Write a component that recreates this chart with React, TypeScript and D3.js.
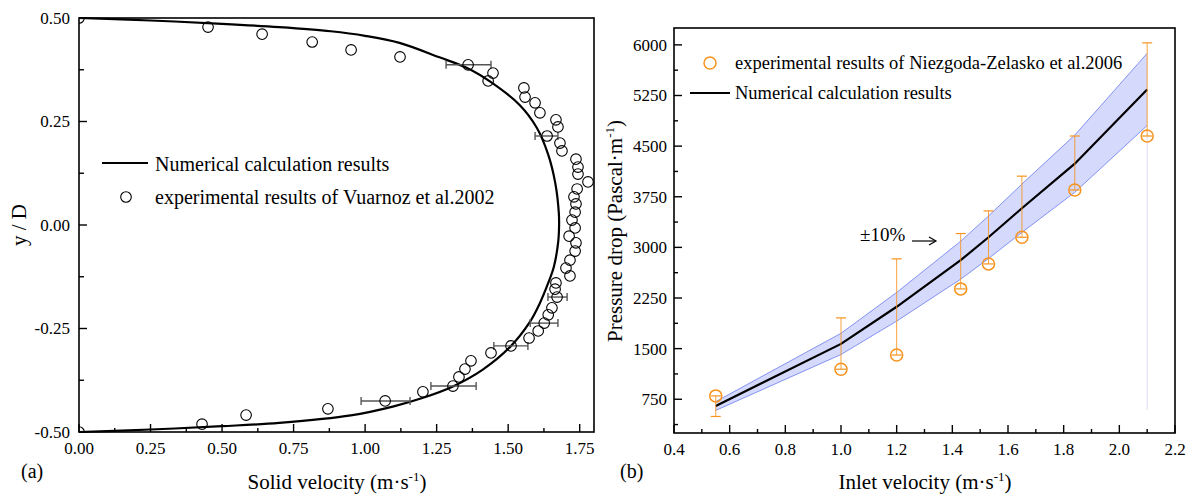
import React from 'react';
import * as d3 from 'd3';

// ---------- Panel (a) data ----------
const numY = [0.5, 0.494, 0.486, 0.478, 0.468, 0.457, 0.44, 0.405, 0.378, 0.345, 0.29, 0.235, 0.17, 0.1, 0.03, 0, -0.04, -0.1, -0.14, -0.19, -0.234, -0.295, -0.35, -0.39, -0.418, -0.438, -0.46, -0.478, -0.486, -0.494, -0.5];
const numV = [0, 0.25, 0.5, 0.7, 0.88, 1.0, 1.12, 1.26, 1.36, 1.44, 1.54, 1.6, 1.64, 1.665, 1.677, 1.678, 1.675, 1.66, 1.64, 1.61, 1.576, 1.506, 1.41, 1.307, 1.2, 1.1, 0.95, 0.7, 0.5, 0.25, 0];

const expV = [0, 0.451, 0.64, 0.815, 0.951, 1.122, 1.36, 1.447, 1.43, 1.555, 1.559, 1.594, 1.611, 1.667, 1.674, 1.636, 1.681, 1.688, 1.737, 1.744, 1.744, 1.779, 1.741, 1.73, 1.737, 1.734, 1.723, 1.734, 1.713, 1.737, 1.734, 1.716, 1.702, 1.716, 1.667, 1.664, 1.671, 1.653, 1.64, 1.626, 1.605, 1.573, 1.51, 1.44, 1.37, 1.349, 1.328, 1.307, 1.202, 1.07, 0.87, 0.584, 0.43, 0];
const expY = [0.5, 0.478, 0.461, 0.442, 0.423, 0.406, 0.387, 0.367, 0.348, 0.331, 0.309, 0.295, 0.271, 0.254, 0.237, 0.215, 0.198, 0.179, 0.159, 0.14, 0.123, 0.104, 0.087, 0.068, 0.051, 0.031, 0.012, -0.007, -0.027, -0.043, -0.063, -0.085, -0.104, -0.123, -0.14, -0.155, -0.174, -0.2, -0.217, -0.237, -0.256, -0.273, -0.292, -0.309, -0.328, -0.348, -0.367, -0.389, -0.403, -0.425, -0.444, -0.459, -0.481, -0.5];

const errY = [0.387, 0.215, -0.174, -0.237, -0.292, -0.389, -0.425];
const errLo = [1.283, 1.594, 1.639, 1.577, 1.45, 1.23, 0.986];
const errHi = [1.44, 1.674, 1.706, 1.674, 1.569, 1.388, 1.157];

const aXTicks = [0, 0.25, 0.5, 0.75, 1.0, 1.25, 1.5, 1.75];
const aYTicks = [-0.5, -0.25, 0, 0.25, 0.5];

// ---------- Panel (b) data ----------
const inletV = [0.55, 1.0, 1.2, 1.43, 1.53, 1.65, 1.84, 2.1];
const numDrop = [650, 1570, 2120, 2810, 3150, 3580, 4240, 5340];
const expDrop = [800, 1195, 1405, 2385, 2755, 3150, 3850, 4650];
const expHigh = [800, 1955, 2830, 3205, 3540, 4055, 4650, 6030];
const expLow = [495, 1195, 1405, 2385, 2755, 3150, 3850, 4650];
const faintLowX = 2.1;
const faintLowFrom = 4650;
const faintLowTo = 590;
const bandPct = 0.1;

const bXTicks = [0.4, 0.6, 0.8, 1.0, 1.2, 1.4, 1.6, 1.8, 2.0, 2.2];
const bYTicks = [750, 1500, 2250, 3000, 3750, 4500, 5250, 6000];

const FONT = '"Liberation Serif", "Times New Roman", serif';
const ORANGE = '#f7931e';

function PanelA() {
  const L = 79, R = 594, T = 18, B = 432;
  const x = d3.scaleLinear().domain([0, 1.8]).range([L, R]);
  const y = d3.scaleLinear().domain([-0.5, 0.5]).range([B, T]);
  const pts = numY.map((yy, i) => [numV[i], yy] as [number, number]);
  const line = d3.line<[number, number]>().x(d => x(d[0])).y(d => y(d[1])).curve(d3.curveCatmullRom.alpha(0.5));
  const xMinor = d3.range(0.125, 1.8, 0.25);
  const yMinor = [-0.375, -0.125, 0.125, 0.375];
  return (
    <g>
      <defs>
        <clipPath id="clipA"><rect x={L} y={T} width={R - L} height={B - T} /></clipPath>
      </defs>
      <rect x={L} y={T} width={R - L} height={B - T} fill="none" stroke="#000" strokeWidth={1.6} />
      {aXTicks.map(t => (
        <g key={'ax' + t}>
          <line x1={x(t)} x2={x(t)} y1={B} y2={B - 8} stroke="#000" strokeWidth={1.4} />
          <text x={x(t)} y={B + 22} textAnchor="middle" fontSize={17} fontFamily={FONT}>{t.toFixed(2)}</text>
        </g>
      ))}
      {xMinor.map(t => <line key={'axm' + t} x1={x(t)} x2={x(t)} y1={B} y2={B - 4} stroke="#000" strokeWidth={1.4} />)}
      {aYTicks.map(t => (
        <g key={'ay' + t}>
          <line x1={L} x2={L + 8} y1={y(t)} y2={y(t)} stroke="#000" strokeWidth={1.4} />
          <text x={L - 9} y={y(t)} dy="0.35em" textAnchor="end" fontSize={17} fontFamily={FONT}>{t.toFixed(2)}</text>
        </g>
      ))}
      {yMinor.map(t => <line key={'aym' + t} x1={L} x2={L + 5} y1={y(t)} y2={y(t)} stroke="#000" strokeWidth={1.4} />)}
      <path d={line(pts) || ''} fill="none" stroke="#000" strokeWidth={2.2} />
      {errY.map((yy, i) => (
        <g key={'e' + i} stroke="#555" strokeWidth={1.4}>
          <line x1={x(errLo[i])} x2={x(errHi[i])} y1={y(yy)} y2={y(yy)} />
          <line x1={x(errLo[i])} x2={x(errLo[i])} y1={y(yy) - 4} y2={y(yy) + 4} />
          <line x1={x(errHi[i])} x2={x(errHi[i])} y1={y(yy) - 4} y2={y(yy) + 4} />
        </g>
      ))}
      <g clipPath="url(#clipA)">
        {expV.map((v, i) => (
          <circle key={'c' + i} cx={x(v)} cy={y(expY[i])} r={5.3} fill="none" stroke="#000" strokeWidth={1.1} />
        ))}
      </g>
      {/* legend */}
      <line x1={102} x2={148} y1={163} y2={163} stroke="#000" strokeWidth={2} />
      <text x={155} y={171} fontSize={20} fontFamily={FONT}>Numerical calculation results</text>
      <circle cx={126} cy={197} r={5.3} fill="none" stroke="#000" strokeWidth={1.1} />
      <text x={155} y={204} fontSize={20} fontFamily={FONT}>experimental results of Vuarnoz et al.2002</text>
      {/* titles */}
      <text x={337} y={489} textAnchor="middle" fontSize={21} fontFamily={FONT}>
        Solid velocity (m·s<tspan fontSize={13} dy={-8}>-1</tspan><tspan dy={8}>)</tspan>
      </text>
      <text transform="translate(26,225) rotate(-90)" textAnchor="middle" fontSize={21} fontFamily={FONT}>y / D</text>
      <text x={21} y={478} fontSize={20} fontFamily={FONT}>(a)</text>
    </g>
  );
}

function PanelB() {
  const L = 674, R = 1175, T = 28, B = 433;
  const x = d3.scaleLinear().domain([0.4, 2.2]).range([L, R]);
  const y = d3.scaleLinear().domain([250, 6250]).range([B, T]);
  const xMinor = d3.range(0.5, 2.2, 0.2);
  const yMinor = d3.range(375, 6250, 750);
  const line = d3.line<number>().x((_, i) => x(inletV[i])).y(d => y(d));
  const area = d3.area<number>().x((_, i) => x(inletV[i])).y0(d => y(d * (1 - bandPct))).y1(d => y(d * (1 + bandPct)));
  const upper = d3.line<number>().x((_, i) => x(inletV[i])).y(d => y(d * (1 + bandPct)));
  const lower = d3.line<number>().x((_, i) => x(inletV[i])).y(d => y(d * (1 - bandPct)));
  return (
    <g>
      <rect x={L} y={T} width={R - L} height={B - T} fill="none" stroke="#000" strokeWidth={1.6} />
      {bXTicks.map(t => (
        <g key={'bx' + t}>
          <line x1={x(t)} x2={x(t)} y1={B} y2={B - 8} stroke="#000" strokeWidth={1.4} />
          <text x={x(t)} y={B + 22} textAnchor="middle" fontSize={17} fontFamily={FONT}>{t.toFixed(1)}</text>
        </g>
      ))}
      {xMinor.map(t => <line key={'bxm' + t} x1={x(t)} x2={x(t)} y1={B} y2={B - 4} stroke="#000" strokeWidth={1.4} />)}
      {bYTicks.map(t => (
        <g key={'by' + t}>
          <line x1={L} x2={L + 8} y1={y(t)} y2={y(t)} stroke="#000" strokeWidth={1.4} />
          <text x={L - 7} y={y(t)} dy="0.35em" textAnchor="end" fontSize={17} fontFamily={FONT}>{t}</text>
        </g>
      ))}
      {yMinor.map(t => <line key={'bym' + t} x1={L} x2={L + 4} y1={y(t)} y2={y(t)} stroke="#000" strokeWidth={1.4} />)}
      <path d={area(numDrop) || ''} fill="#d5d9fb" stroke="none" />
      <path d={upper(numDrop) || ''} fill="none" stroke="#8393f2" strokeWidth={1} />
      <path d={lower(numDrop) || ''} fill="none" stroke="#8393f2" strokeWidth={1} />
      <line x1={x(faintLowX)} x2={x(faintLowX)} y1={y(faintLowFrom)} y2={y(faintLowTo)} stroke="#dcdcf2" strokeWidth={1} />
      <path d={line(numDrop) || ''} fill="none" stroke="#000" strokeWidth={2.2} />
      {inletV.map((v, i) => (
        <g key={'p' + i} stroke={ORANGE} fill="none">
          <line x1={x(v)} x2={x(v)} y1={y(expHigh[i])} y2={y(expLow[i])} strokeWidth={1} strokeOpacity={0.85} />
          <line x1={x(v) - 5} x2={x(v) + 5} y1={y(expHigh[i])} y2={y(expHigh[i])} strokeWidth={1.2} />
          <line x1={x(v) - 5} x2={x(v) + 5} y1={y(expLow[i])} y2={y(expLow[i])} strokeWidth={1.2} />
          <circle cx={x(v)} cy={y(expDrop[i])} r={6} strokeWidth={1.5} />
        </g>
      ))}
      {/* annotation */}
      <text x={860} y={241} fontSize={19} fontFamily={FONT}>±10%</text>
      <line x1={912} x2={935} y1={241} y2={241} stroke="#000" strokeWidth={1.2} />
      <path d="M929,237 L936,241 L929,245" fill="none" stroke="#000" strokeWidth={1.2} />
      {/* legend */}
      <circle cx={710} cy={63} r={6} fill="none" stroke={ORANGE} strokeWidth={1.5} />
      <text x={735} y={69} fontSize={18.5} fontFamily={FONT}>experimental results of Niezgoda-Zelasko et al.2006</text>
      <line x1={690} x2={730} y1={93} y2={93} stroke="#000" strokeWidth={2} />
      <text x={735} y={99} fontSize={18.5} fontFamily={FONT}>Numerical calculation results</text>
      {/* titles */}
      <text x={925} y={489} textAnchor="middle" fontSize={21} fontFamily={FONT}>
        Inlet velocity (m·s<tspan fontSize={13} dy={-8}>-1</tspan><tspan dy={8}>)</tspan>
      </text>
      <text transform="translate(622,231) rotate(-90)" textAnchor="middle" fontSize={21} fontFamily={FONT}>
        Pressure drop (Pascal·m<tspan fontSize={13} dy={-8}>-1</tspan><tspan dy={8}>)</tspan>
      </text>
      <text x={620} y={478} fontSize={20} fontFamily={FONT}>(b)</text>
    </g>
  );
}

export default function App() {
  return (
    <svg width={1193} height={497} style={{ position: 'absolute', left: 0, top: 0, background: '#fff' }}>
      <rect width={1193} height={497} fill="#fff" />
      <PanelA />
      <PanelB />
    </svg>
  );
}
